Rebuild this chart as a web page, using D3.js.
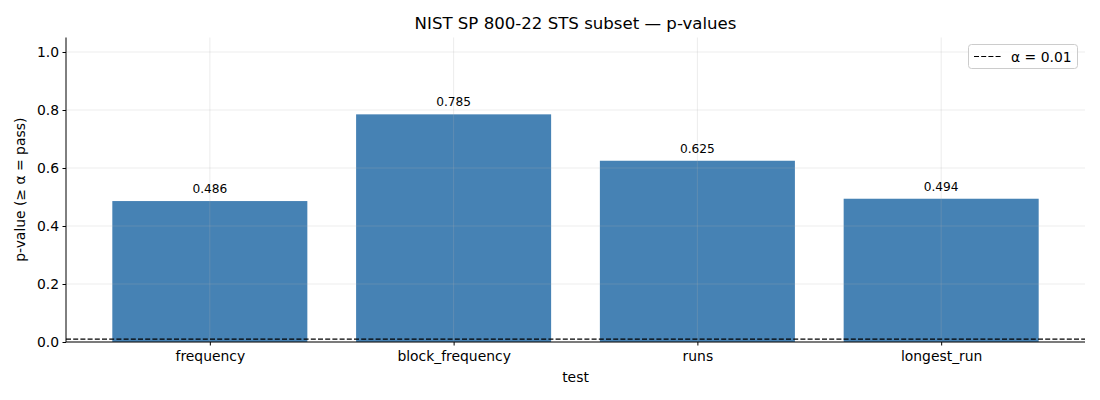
<!DOCTYPE html>
<html><head><meta charset="utf-8">
<script src="https://cdn.jsdelivr.net/npm/d3@7/dist/d3.min.js"></script>
<style>body{margin:0;background:#fff}svg{display:block;font-family:"DejaVu Sans",sans-serif}</style>
</head><body><svg id="c" width="1100" height="400"></svg>
<script>
const categories = ["frequency","block_frequency","runs","longest_run"];
const pValues = [0.486, 0.785, 0.625, 0.494];
const yTicks = [0.0, 0.2, 0.4, 0.6, 0.8, 1.0];
const alpha = 0.01;
const titleText = "NIST SP 800-22 STS subset \u2014 p-values";
const xLabel = "test";
const yLabel = "p-value (\u2265 \u03b1 = pass)";
const legendLabel = "\u03b1 = 0.01";

const svg = d3.select("#c");
const L = 66, R = 1085, T = 37.5, B = 342;
const x = d3.scaleLinear().domain([-0.59, categories.length - 1 + 0.59]).range([L, R]);
const y = d3.scaleLinear().domain([0, 1.05]).range([B, T]);
const bw = 0.8;
const fs = 13.9;

// bars
svg.append("g").selectAll("rect").data(pValues).join("rect")
  .attr("x", (d,i) => x(i - bw/2)).attr("width", (d,i) => x(i + bw/2) - x(i - bw/2))
  .attr("y", d => y(d)).attr("height", d => y(0) - y(d))
  .attr("fill", "#4682b4");

// grid on top
const grid = svg.append("g").attr("stroke", "#b0b0b0").attr("stroke-opacity", 0.3).attr("stroke-width", 0.8);
yTicks.forEach(t => grid.append("line").attr("x1", L).attr("x2", R).attr("y1", y(t)).attr("y2", y(t)));
categories.forEach((c,i) => grid.append("line").attr("x1", x(i)).attr("x2", x(i)).attr("y1", T).attr("y2", B));

// alpha line
svg.append("line").attr("x1", L).attr("x2", R).attr("y1", y(alpha)).attr("y2", y(alpha))
  .attr("stroke", "#000").attr("stroke-width", 1.2).attr("stroke-dasharray", "5,2.2");

// value labels
svg.append("g").selectAll("text").data(pValues).join("text")
  .attr("x", (d,i) => x(i)).attr("y", d => y(d) - 8).attr("text-anchor", "middle")
  .attr("font-size", 12.2).attr("fill", "#000").text(d => d.toFixed(3));

// axes
const yAxis = d3.axisLeft(y).tickValues(yTicks).tickFormat(d3.format(".1f")).tickSize(3.5).tickPadding(3.5);
const gy = svg.append("g").attr("transform", `translate(${L},0)`).call(yAxis);
gy.select(".domain").attr("d", `M0,${T}V${B}`);
const xAxis = d3.axisBottom(x).tickValues(d3.range(categories.length)).tickFormat(i => categories[i]).tickSize(3.5).tickPadding(5.5);
const gx = svg.append("g").attr("transform", `translate(0,${B})`).call(xAxis);
gx.select(".domain").attr("d", `M${L},0H${R}`);
[gx, gy].forEach(g => {
  g.selectAll("text").attr("font-size", fs).attr("fill", "#000").attr("font-family", '"DejaVu Sans",sans-serif');
  g.selectAll(".domain").attr("stroke-width", 1);
  g.selectAll(".tick line").attr("stroke-width", 1);
});

// labels
svg.append("text").attr("x", (L+R)/2).attr("y", 29).attr("text-anchor", "middle").attr("font-size", 16.6).text(titleText);
svg.append("text").attr("x", (L+R)/2).attr("y", 382).attr("text-anchor", "middle").attr("font-size", fs).text(xLabel);
svg.append("text").attr("transform", `translate(25,${(T+B)/2}) rotate(-90)`).attr("text-anchor", "middle").attr("font-size", fs).text(yLabel);

// legend
const lg = svg.append("g");
lg.append("rect").attr("x", 968.5).attr("y", 44.5).attr("width", 109).attr("height", 24).attr("rx", 3)
  .attr("fill", "#fff").attr("fill-opacity", 0.8).attr("stroke", "#ccc");
lg.append("line").attr("x1", 974).attr("x2", 1002).attr("y1", 56.5).attr("y2", 56.5)
  .attr("stroke", "#000").attr("stroke-width", 1.2).attr("stroke-dasharray", "5,2.2");
lg.append("text").attr("x", 1011).attr("y", 61.5).attr("font-size", fs).text(legendLabel);
</script></body></html>
